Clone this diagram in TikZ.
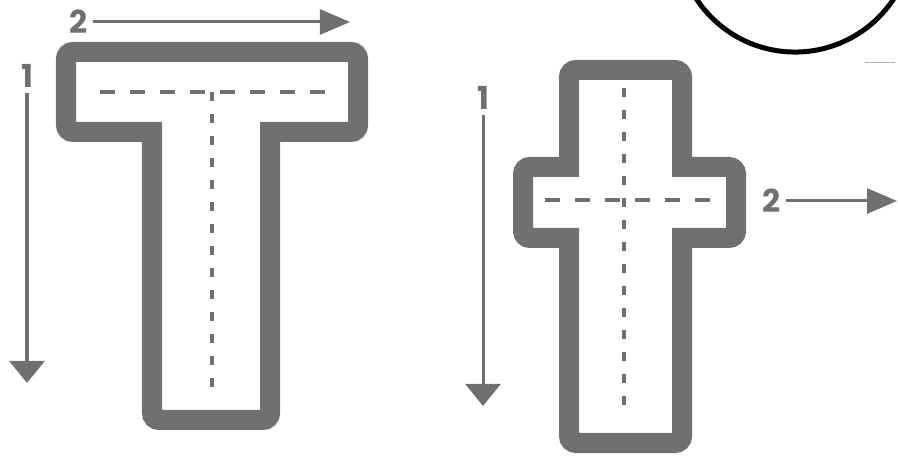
\documentclass[tikz,border=0pt]{standalone}
\usepackage{fontspec}
\setsansfont{Poppins}
\usetikzlibrary{arrows.meta}
\definecolor{ink}{RGB}{112,112,112}

\begin{document}
\begin{tikzpicture}[x=0.01cm,y=-0.01cm,font=\sffamily\bfseries]
\tikzstyle{wall}=[draw=ink,line width=0.2cm]
\tikzstyle{rc}=[rounded corners=0.07cm]
\tikzstyle{sc}=[sharp corners]
\tikzstyle{hguide}=[draw=ink,line width=0.035cm,dash pattern=on 0.15cm off 0.15cm]
\tikzstyle{vguide}=[draw=ink,line width=0.04cm,dash pattern=on 0.09cm off 0.13cm]
\tikzstyle{down}=[draw=ink,line width=0.03cm,-{Triangle[length=0.22cm,width=0.35cm]}]
\tikzstyle{right}=[draw=ink,line width=0.03cm,-{Triangle[length=0.3cm,width=0.25cm]}]
\tikzstyle{num}=[text=ink,font=\sffamily\bfseries\fontsize{9}{9}\selectfont,inner sep=0pt,outer sep=1.5pt]
\useasboundingbox (0,0) rectangle (898,456);
% big T
\draw[wall] (212,52) [rc] -- (358,52) -- (358,132) [sc] -- (270,132) [rc] -- (270,420) -- (152,420) [sc] -- (152,132) [rc] -- (66,132) -- (66,52) -- cycle;
\draw[hguide] (100,92) -- (325,92);
\draw[vguide] (212,92) -- (212,395);
\node[num] (oneT) at (27,76) {1};
\coordinate (endoneT) at (27,383);
\draw[down] (oneT) -- (endoneT);
\node[num] (twoT) at (79,22) {2};
\coordinate (endtwoT) at (350,22);
\draw[right] (twoT) -- (endtwoT);
% small t
\draw[wall] (624,70) [rc] -- (682,70) [sc] -- (682,167) [rc] -- (736,167) -- (736,238) [sc] -- (682,238) [rc] -- (682,443) -- (569,443) [sc] -- (569,238) [rc] -- (523,238) -- (523,167) [sc] -- (569,167) [rc] -- (569,70) -- cycle;
\draw[vguide] (624,88) -- (624,415);
\draw[hguide] (545,200) -- (710,200);
\node[num] (onet) at (483,98) {1};
\coordinate (endonet) at (483,406);
\draw[down] (onet) -- (endonet);
\node[num] (twot) at (772,201) {2};
\coordinate (endtwot) at (897,201);
\draw[right] (twot) -- (endtwot);
% circle cut by the top edge
\draw[line width=0.05cm] (795,-66) circle [radius=1.18cm];
\draw[gray!60,line width=0.01cm] (865,63) -- (895,63);
\end{tikzpicture}
\end{document}
